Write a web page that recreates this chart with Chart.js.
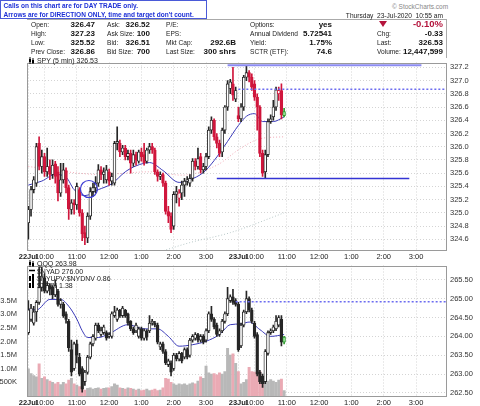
<!DOCTYPE html>
<html>
<head>
<meta charset="utf-8">
<script src="https://cdn.jsdelivr.net/npm/chart.js@4.4.1/dist/chart.umd.min.js"></script>
<style>
body{margin:0;background:#fff;width:480px;height:406px;overflow:hidden;position:relative;font-family:Arial,"Liberation Sans",sans-serif;}
.t{position:absolute;font-size:6.6px;color:#222;white-space:nowrap;line-height:9px;z-index:3;}
.v{font-weight:bold;font-size:8px;color:#111;}
#calls{position:absolute;left:0;top:0;width:205px;height:17px;border:1px solid #4a5ad8;background:#fff;z-index:4;overflow:hidden;}
#calls div{font-weight:bold;font-size:7.5px;line-height:8.5px;color:#1c2fd6;white-space:nowrap;transform:scaleX(0.87);transform-origin:0 0;padding:1px 0 0 3px;}
#frame{position:absolute;left:27px;top:19px;width:419px;height:38px;border-top:1px solid #aaa;border-right:1px solid #aaa;}
#c1{position:absolute;left:0;top:55px;}
#c2{position:absolute;left:0;top:258px;}
.lg{position:absolute;font-size:7px;color:#222;white-space:nowrap;line-height:7px;z-index:3;}
</style>
</head>
<body>
<div id="frame"></div>
<div id="calls"><div>Calls on this chart are for DAY TRADE only.<br>Arrows are for DIRECTION ONLY, time and target don't count.</div></div>
<div class="t" style="left:392px;top:2px;color:#888;font-size:6.5px;">&copy; StockCharts.com</div>
<div class="t" style="right:37px;top:11px;">Thursday&nbsp;&nbsp;23-Jul-2020&nbsp;&nbsp;10:55 am</div>

<div class="t" style="left:31px;top:20px;">Open:</div><div class="t v" style="right:385px;top:20px;">326.47</div>
<div class="t" style="left:31px;top:29px;">High:</div><div class="t v" style="right:385px;top:29px;">327.23</div>
<div class="t" style="left:31px;top:38px;">Low:</div><div class="t v" style="right:385px;top:38px;">325.52</div>
<div class="t" style="left:31px;top:47px;">Prev Close:</div><div class="t v" style="right:385px;top:47px;">326.86</div>

<div class="t" style="left:107px;top:20px;">Ask:</div><div class="t v" style="right:330px;top:20px;">326.52</div>
<div class="t" style="left:107px;top:29px;">Ask Size:</div><div class="t v" style="right:330px;top:29px;">100</div>
<div class="t" style="left:107px;top:38px;">Bid:</div><div class="t v" style="right:330px;top:38px;">326.51</div>
<div class="t" style="left:107px;top:47px;">Bid Size:</div><div class="t v" style="right:330px;top:47px;">700</div>

<div class="t" style="left:166px;top:20px;">P/E:</div>
<div class="t" style="left:166px;top:29px;">EPS:</div>
<div class="t" style="left:166px;top:38px;">Mkt Cap:</div><div class="t v" style="right:244px;top:38px;">292.6B</div>
<div class="t" style="left:166px;top:47px;">Last Size:</div><div class="t v" style="right:244px;top:47px;">300 shrs</div>

<div class="t" style="left:250px;top:20px;">Options:</div><div class="t v" style="right:148px;top:20px;">yes</div>
<div class="t" style="left:250px;top:29px;">Annual Dividend</div><div class="t v" style="right:148px;top:29px;">5.72541</div>
<div class="t" style="left:250px;top:38px;">Yield:</div><div class="t v" style="right:148px;top:38px;">1.75%</div>
<div class="t" style="left:250px;top:47px;">SCTR (ETF):</div><div class="t v" style="right:148px;top:47px;">74.6</div>

<div style="position:absolute;left:379px;top:21px;width:0;height:0;border-left:4px solid transparent;border-right:4px solid transparent;border-top:6px solid #b4143c;z-index:3;"></div>
<div class="t v" style="right:37px;top:19px;color:#b4143c;font-size:9.5px;">-0.10%</div>
<div class="t" style="left:377px;top:29px;">Chg:</div><div class="t v" style="right:37px;top:29px;">-0.33</div>
<div class="t" style="left:377px;top:38px;">Last:</div><div class="t v" style="right:37px;top:38px;">326.53</div>
<div class="t" style="left:377px;top:47px;">Volume:</div><div class="t v" style="right:37px;top:47px;">12,447,599</div>

<canvas id="c1" width="480" height="207"></canvas>
<canvas id="c2" width="480" height="148"></canvas>

<div class="lg" style="left:29px;top:57px;"><svg width="6" height="7" style="vertical-align:-1px"><line x1="1" y1="0" x2="1" y2="7" stroke="#000"/><rect x="0" y="2" width="2" height="3" fill="#000"/><line x1="4" y1="1" x2="4" y2="7" stroke="#000"/><rect x="3" y="3" width="2" height="3" fill="#000"/></svg> SPY (5 min) 326.53</div>
<div class="lg" style="left:29px;top:260px;"><svg width="6" height="7" style="vertical-align:-1px"><line x1="1" y1="0" x2="1" y2="7" stroke="#000"/><rect x="0" y="2" width="2" height="3" fill="#000"/><line x1="4" y1="1" x2="4" y2="7" stroke="#000"/><rect x="3" y="3" width="2" height="3" fill="#000"/></svg> QQQ 263.98</div>
<div class="lg" style="left:29px;top:267px;"><svg width="6" height="7"><line x1="0" y1="3.5" x2="6" y2="3.5" stroke="#000" stroke-width="1.5"/></svg> $NYAD 276.00</div>
<div class="lg" style="left:29px;top:274px;"><svg width="6" height="7"><rect x="0" y="2" width="2" height="5" fill="#000"/><rect x="3" y="0" width="2" height="7" fill="#000"/></svg> $NYUPV:$NYDNV 0.86</div>
<div class="lg" style="left:29px;top:281px;"><svg width="6" height="7"><rect x="0" y="2" width="2" height="5" fill="#000"/><rect x="3" y="0" width="2" height="7" fill="#000"/></svg> $TRIN 1.38</div>

<script>
// time axis: one slot per 5 min bar, two sessions of 78 bars
var tickAt = [0, 6, 18, 30, 42, 54, 66, 78, 84, 96, 108, 120, 132, 144];
var tickText = ['22Jul', '10:00', '11:00', '12:00', '1:00', '2:00', '3:00', '23Jul', '10:00', '11:00', '12:00', '1:00', '2:00', '3:00'];
var spyTicks = [324.6, 324.8, 325.0, 325.2, 325.4, 325.6, 325.8, 326.0, 326.2, 326.4, 326.6, 326.8, 327.0, 327.2];
var qqqTicks = [262.5, 262.75, 263.0, 263.25, 263.5, 263.75, 264.0, 264.25, 264.5, 264.75, 265.0, 265.25, 265.5, 265.75];
var volTicks = [0.5, 1.0, 1.5, 2.0, 2.5, 3.0, 3.5];

// SPY 5 min
var spyOpen = [324.85,325.05,325.35,325.45,326.05,325.70,325.85,325.62,325.70,325.58,
  325.74,325.62,325.30,325.50,325.64,325.38,325.05,325.15,325.12,325.35,
  325.00,324.70,324.62,324.95,325.32,325.38,325.45,325.65,325.58,325.50,
  325.62,325.48,325.45,326.05,326.05,325.92,325.98,325.85,325.90,325.75,
  325.88,325.78,325.92,325.88,325.78,325.95,326.00,325.95,325.62,325.55,
  325.58,325.45,325.02,324.95,324.80,325.28,325.22,325.30,325.42,325.48,
  325.45,325.52,325.78,325.70,325.85,325.65,325.70,325.85,326.25,326.40,
  326.15,326.05,325.92,326.25,326.60,326.88,326.95,326.72,
  326.47,326.42,326.60,327.05,327.12,327.05,326.95,326.75,326.60,325.90,
  325.62,325.88,326.38,326.45,326.60,326.80,326.85,326.47];
var spyHigh = [325.10,325.40,325.55,326.05,326.15,325.95,325.90,325.98,325.80,325.80,
  325.78,325.70,325.75,325.75,325.68,325.42,325.20,325.20,325.45,325.38,
  325.05,324.80,325.00,325.38,325.45,325.55,325.73,325.70,325.68,325.72,
  325.66,325.60,326.08,326.30,326.10,326.02,326.02,325.95,325.95,325.95,
  325.92,325.95,325.98,326.05,325.98,326.05,326.05,325.98,325.65,325.62,
  325.60,325.48,325.10,325.00,325.32,325.40,325.35,325.48,325.52,325.55,
  325.58,325.82,325.82,325.98,325.90,325.75,325.90,326.30,326.45,326.42,
  326.20,326.10,326.28,326.62,327.00,327.02,327.20,326.90,
  326.60,326.65,327.08,327.23,327.15,327.10,327.00,326.80,326.62,325.95,
  325.95,326.42,326.48,326.70,326.90,326.90,326.95,326.58];
var spyLow = [324.60,324.95,325.30,325.40,325.65,325.60,325.55,325.55,325.50,325.52,
  325.45,325.18,325.25,325.45,325.30,324.90,324.98,324.98,325.05,324.95,
  324.58,324.52,324.55,324.90,325.25,325.30,325.40,325.50,325.45,325.45,
  325.42,325.42,325.42,325.95,325.85,325.88,325.80,325.80,325.60,325.70,
  325.72,325.75,325.78,325.72,325.75,325.90,325.90,325.58,325.48,325.50,
  325.40,324.98,324.85,324.70,324.75,325.15,325.10,325.20,325.25,325.42,
  325.40,325.48,325.65,325.66,325.60,325.60,325.65,325.82,326.20,326.10,
  325.98,325.85,325.85,326.20,326.55,326.80,326.70,326.68,
  326.38,326.38,326.55,327.00,326.98,326.85,326.70,326.25,325.85,325.55,
  325.52,325.85,326.35,326.40,326.55,326.70,326.42,326.45];
var spyClose = [325.05,325.35,325.50,326.00,325.70,325.85,325.62,325.70,325.58,325.72,
  325.55,325.30,325.50,325.65,325.38,325.06,325.15,325.12,325.40,325.00,
  324.68,324.62,324.95,325.32,325.38,325.45,325.65,325.58,325.62,325.65,
  325.48,325.55,326.05,326.08,325.92,325.98,325.85,325.90,325.75,325.88,
  325.80,325.92,325.85,325.76,325.95,326.00,325.95,325.62,325.55,325.58,
  325.45,325.02,324.95,324.75,325.28,325.32,325.30,325.42,325.48,325.50,
  325.52,325.78,325.70,325.82,325.65,325.70,325.85,326.25,326.40,326.15,
  326.05,325.90,326.25,326.60,326.95,326.98,326.78,326.85,
  326.42,326.60,327.05,327.12,327.05,326.90,326.75,326.60,325.90,325.60,
  325.88,326.38,326.42,326.60,326.86,326.85,326.48,326.53];

// moving averages (bar slot, value)
var spyMaAt = [0,5,10,14,17,21,26,31,36,40,45,50,56,60,65,69,74,78,81,84,87,91,95];
var spyMa = [325.42,325.48,325.58,325.54,325.35,325.26,325.35,325.44,325.62,325.71,325.76,325.64,325.46,325.50,325.61,325.79,326.08,326.32,326.46,326.50,326.38,326.38,326.45];
var spySlowAt = [0,27,45,57,70,79,86,95];
var spySlow = [325.70,325.58,325.62,325.57,325.72,325.98,326.12,326.15];
var spyLongAt = [48,60,75,95];
var spyLong = [324.40,324.55,324.70,325.00];

// QQQ 5 min
var qqqOpen = [264.10,264.45,264.35,264.65,264.90,265.30,265.55,265.20,265.35,265.30,
  265.10,265.20,264.85,264.85,264.60,264.40,263.65,263.15,263.80,263.45,
  263.15,262.80,263.05,263.45,263.80,263.95,264.30,264.05,264.10,264.10,
  264.00,264.00,264.55,264.45,264.70,264.55,264.70,264.60,264.40,264.20,
  264.15,264.00,264.20,263.95,264.15,264.15,264.35,264.35,264.30,263.72,
  263.80,263.60,263.25,263.30,263.15,263.50,263.40,263.55,263.45,263.65,
  263.50,263.90,263.95,264.05,263.90,264.00,263.90,264.15,264.60,264.45,
  264.30,264.05,264.15,264.40,264.60,264.95,265.05,264.95,
  264.85,263.75,264.30,264.65,265.00,264.70,264.35,264.05,263.05,262.95,
  262.80,263.55,264.10,264.15,264.20,264.30,264.45,263.85];
var qqqHigh = [264.95,264.85,264.80,264.95,265.90,265.90,265.65,265.45,265.40,265.35,
  265.50,265.25,265.00,264.90,264.65,264.45,263.90,263.85,263.90,263.55,
  263.20,263.10,263.50,263.85,264.05,264.35,264.35,264.25,264.30,264.15,
  264.10,264.65,264.80,264.75,264.72,264.80,264.72,264.62,264.42,264.25,
  264.35,264.25,264.25,264.20,264.18,264.55,264.45,264.40,264.35,263.85,
  263.85,263.65,263.40,263.35,263.55,263.55,263.60,263.58,263.70,263.70,
  263.95,264.05,264.10,264.08,264.05,264.05,264.20,264.65,264.80,264.50,
  264.35,264.20,264.45,264.65,265.30,265.10,265.25,265.00,
  264.90,264.35,264.70,265.20,265.05,264.75,264.40,264.10,263.10,263.00,
  263.65,264.15,264.20,264.30,264.55,264.55,264.55,264.00];
var qqqLow = [264.05,264.40,264.30,264.40,264.85,265.20,265.15,265.15,265.10,265.00,
  265.05,264.80,264.75,264.50,264.35,263.60,262.95,263.10,263.30,262.95,
  262.52,262.70,263.00,263.40,263.75,263.90,264.10,264.00,264.05,263.90,
  263.95,263.95,264.50,264.40,264.50,264.50,264.50,264.30,264.15,264.05,
  264.10,263.95,263.90,263.90,263.90,264.10,264.30,264.25,263.80,263.65,
  263.55,263.25,263.20,262.95,263.10,263.35,263.35,263.30,263.40,263.40,
  263.45,263.85,263.90,263.85,263.85,263.80,263.85,264.10,264.40,264.20,
  264.00,264.00,264.10,264.35,264.55,264.90,264.85,264.80,
  263.60,263.70,264.25,264.60,264.65,264.35,263.95,262.95,262.75,262.65,
  262.75,263.50,264.05,264.10,264.15,264.25,263.75,263.80];
var qqqClose = [264.70,264.75,264.65,264.90,265.30,265.60,265.20,265.35,265.25,265.10,
  265.35,264.85,264.95,264.55,264.45,263.70,263.05,263.80,263.50,263.00,
  262.60,263.05,263.45,263.80,264.00,264.30,264.15,264.15,264.25,263.95,
  264.05,264.60,264.65,264.70,264.55,264.75,264.55,264.35,264.20,264.10,
  264.30,264.20,263.95,264.15,263.98,264.35,264.40,264.30,263.85,263.80,
  263.60,263.30,263.35,263.05,263.50,263.40,263.55,263.35,263.65,263.45,
  263.90,264.00,264.05,263.90,264.00,263.85,264.15,264.60,264.45,264.25,
  264.05,264.15,264.40,264.60,265.00,265.05,264.90,264.85,
  263.65,264.30,264.65,265.00,264.70,264.40,264.00,263.00,262.80,262.75,
  263.60,264.10,264.15,264.25,264.40,264.50,263.85,263.98];
var qqqMaAt = [0,3,8,12,15,18,20,22,26,30,37,43,48,52,56,61,66,71,75,79,82,86,90,95];
var qqqMa = [264.72,264.70,264.98,264.98,264.80,264.46,264.15,263.97,263.97,264.07,264.31,264.20,264.20,264.00,263.74,263.78,263.87,264.05,264.31,264.33,264.38,264.18,264.00,264.05];

// SPY volume, millions of shares per bar
var volume = [1.00,0.82,0.75,0.70,1.18,0.65,0.70,0.60,0.55,0.50,
  0.45,0.50,0.42,0.50,0.45,0.58,0.65,0.45,0.40,0.35,
  0.25,0.22,0.28,0.30,0.25,0.28,0.30,0.25,0.28,0.30,
  0.30,0.35,0.45,0.40,0.30,0.28,0.25,0.30,0.28,0.25,
  0.22,0.25,0.20,0.22,0.25,0.20,0.22,0.25,0.20,0.22,
  0.30,0.65,0.62,0.50,0.45,0.40,0.45,0.42,0.45,0.40,
  0.45,0.48,0.45,0.55,0.70,0.65,1.10,0.85,0.80,0.82,
  0.78,0.85,0.80,0.90,1.75,1.50,1.55,1.20,
  0.90,0.45,0.50,0.60,1.05,0.90,0.88,0.85,0.90,0.70,
  0.72,0.55,0.60,0.55,0.50,0.58,0.62,0.20];

// drawn levels: [from slot, to slot, price]
var spyHighLevel = [74, 146, 327.23];
var spyPrevLevel = [78, 155.5, 326.87];
var spyLowLevel = [70, 141.5, 325.52];
var qqqPrevLevel = [77, 155.5, 264.92];
var circleMark = [22.5, 325.36];

Chart.defaults.font.family = 'Arial, "Liberation Sans", sans-serif';
Chart.defaults.color = '#333';

var RED = '#d0163c';
var INK = '#262626';

function pts(at, vals) {
  return at.map(function (x, i) { return { x: x, y: vals[i] }; });
}

function candles(open, high, low, close, useRed) {
  var body = [], wick = [], fill = [], edge = [];
  for (var i = 0; i < close.length; i++) {
    body.push({ x: i, y: [open[i], close[i]] });
    wick.push({ x: i, y: [low[i], high[i]] });
    var col = (useRed && i > 0 && close[i] < close[i - 1]) ? RED : INK;
    var filled = close[i] < open[i];
    if (i === close.length - 1) {
      fill.push('#9be39b'); edge.push('#2f9a2f');
    } else {
      fill.push(filled ? col : '#fff'); edge.push(col);
    }
  }
  return [
    { type: 'bar', data: wick, backgroundColor: edge, barThickness: 1, grouped: false, order: 6, yAxisID: 'y' },
    { type: 'bar', data: body, backgroundColor: fill, borderColor: edge, borderWidth: 0.9, borderSkipped: false,
      barThickness: 2.8, minBarLength: 1, grouped: false, order: 5, yAxisID: 'y' }
  ];
}

function levelLine(l, color, width, dash) {
  return { type: 'line', data: [{ x: l[0], y: l[2] }, { x: l[1], y: l[2] }], borderColor: color,
    borderWidth: width, borderDash: dash, pointRadius: 0, order: 2, yAxisID: 'y' };
}

function maLine(at, vals, color, width, dash, order) {
  return { type: 'line', data: pts(at, vals), borderColor: color, borderWidth: width, borderDash: dash,
    pointRadius: 0, cubicInterpolationMode: 'monotone', order: order, yAxisID: 'y' };
}

var framePlugin = {
  id: 'frame',
  afterDraw: function (chart) {
    var a = chart.chartArea, ctx = chart.ctx;
    ctx.save();
    ctx.strokeStyle = '#9a9a9a';
    ctx.lineWidth = 1;
    ctx.strokeRect(Math.round(a.left) + 0.5, Math.round(a.top) + 0.5, Math.round(a.right - a.left) - 1, Math.round(a.bottom - a.top) - 1);
    ctx.restore();
  }
};

// hand-drawn circle annotation on the SPY panel
var circlePlugin = {
  id: 'circleMark',
  afterDatasetsDraw: function (chart) {
    var ctx = chart.ctx;
    var cx = chart.scales.x.getPixelForValue(circleMark[0]);
    var cy = chart.scales.y.getPixelForValue(circleMark[1]);
    ctx.save();
    ctx.strokeStyle = '#3c3cd4';
    ctx.lineWidth = 1.2;
    ctx.beginPath();
    ctx.arc(cx, cy, 8.5, 0, Math.PI * 2);
    ctx.stroke();
    ctx.restore();
  }
};

function xScale(h) {
  return {
    type: 'linear', min: -0.5, max: 155.5, offset: false,
    grid: { color: '#d4d4d4', drawTicks: false, offset: false },
    border: { display: false, dash: [1, 2] },
    afterBuildTicks: function (s) { s.ticks = tickAt.map(function (v) { return { value: v }; }); },
    afterFit: function (s) { s.height = h; },
    ticks: {
      autoSkip: false, maxRotation: 0, padding: 2, color: '#222',
      font: function (c) { return { size: 7.5, weight: (c.index === 0 || c.index === 7) ? 'bold' : 'normal' }; },
      callback: function (v, i) { return tickText[i]; }
    }
  };
}

function priceScale(min, max, list, digits) {
  return {
    type: 'linear', position: 'right', min: min, max: max,
    grid: { color: '#d4d4d4', drawTicks: false },
    border: { display: false, dash: [1, 2] },
    afterBuildTicks: function (s) { s.ticks = list.map(function (v) { return { value: v }; }); },
    afterFit: function (s) { s.width = 33; },
    ticks: { padding: 3, color: '#333', font: { size: 7.5 }, callback: function (v) { return v.toFixed(digits); } }
  };
}

var common = {
  responsive: false, animation: false, events: [],
  plugins: { legend: { display: false }, tooltip: { enabled: false } }
};

// top panel: SPY
var spySets = candles(spyOpen, spyHigh, spyLow, spyClose, true);
new Chart(document.getElementById('c1'), {
  type: 'bar',
  data: {
    datasets: [
      maLine(spyLongAt, spyLong, '#b8c8c8', 1, [1, 2], 9),
      maLine(spySlowAt, spySlow, '#f0a8b4', 1, [1, 2], 8),
      maLine(spyMaAt, spyMa, '#3a3ab8', 1, [], 7),
      spySets[0], spySets[1],
      levelLine(spyHighLevel, '#8c8cf2', 2, []),
      levelLine(spyPrevLevel, '#6c6cf0', 1.5, [2, 2]),
      levelLine(spyLowLevel, '#3434d4', 1.5, [])
    ]
  },
  options: Object.assign({}, common, {
    layout: { padding: { left: 27, top: 2, right: 0, bottom: 0 } },
    scales: { x: xScale(12), y: priceScale(324.438, 327.273, spyTicks, 1) }
  }),
  plugins: [framePlugin, circlePlugin]
});

// bottom panel: QQQ with SPY volume
var qqqSets = candles(qqqOpen, qqqHigh, qqqLow, qqqClose, false);
var volColors = volume.map(function (v, i) { return spyClose[i] < spyOpen[i] ? '#eaaab4' : '#b8b8b8'; });
new Chart(document.getElementById('c2'), {
  type: 'bar',
  data: {
    datasets: [
      { type: 'bar', data: volume.map(function (v, i) { return { x: i, y: v }; }), backgroundColor: volColors,
        barThickness: 2.3, grouped: false, order: 9, yAxisID: 'vol' },
      maLine(qqqMaAt, qqqMa, '#3a3ab8', 1, [], 7),
      qqqSets[0], qqqSets[1],
      levelLine(qqqPrevLevel, '#6c6cf0', 1.5, [2, 2])
    ]
  },
  options: Object.assign({}, common, {
    layout: { padding: { left: 0, top: 4, right: 0, bottom: 0 } },
    scales: {
      x: xScale(10),
      y: priceScale(262.42, 265.879, qqqTicks, 2),
      vol: {
        type: 'linear', position: 'left', min: 0, max: 4.786,
        grid: { display: false }, border: { display: false },
        afterBuildTicks: function (s) { s.ticks = volTicks.map(function (v) { return { value: v }; }); },
        afterFit: function (s) { s.width = 27; },
        ticks: { padding: 2, color: '#333', font: { size: 7.5 },
          callback: function (v) { return v < 1 ? Math.round(v * 1000) + 'K' : v.toFixed(1) + 'M'; } }
      }
    }
  }),
  plugins: [framePlugin]
});
</script>
</body>
</html>
